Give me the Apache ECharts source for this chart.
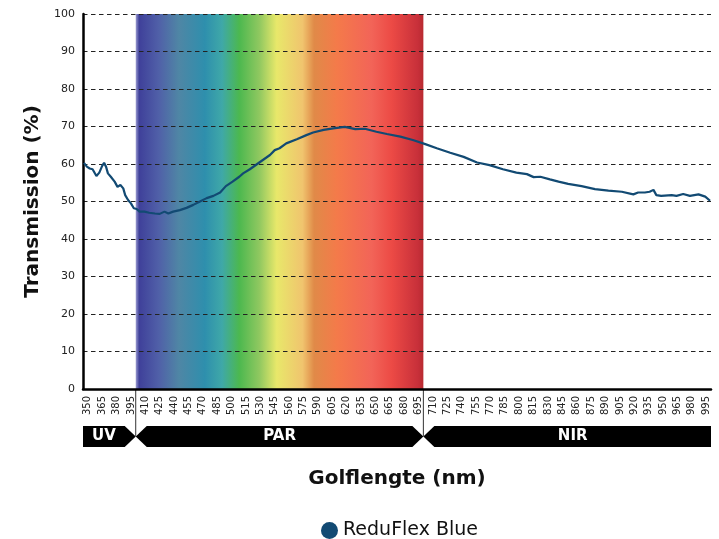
<!DOCTYPE html>
<html>
<head>
<meta charset="utf-8">
<script src="https://cdn.jsdelivr.net/npm/echarts@6/dist/echarts.min.js"></script>
<style>html,body{margin:0;padding:0;background:#fff}#c{width:719px;height:539px}</style>
</head>
<body>
<div id="c"></div>
<script>
// ---- data ----
const wavelengths = [346,349,352,355,359,362,365,367,369,371,374,378,381,384,387,389,392,395,398,401,404,409,414,420,425,430,434,439,446,453,460,467,474,481,488,494,501,508,512,519,530,540,545,550,557,568,578,585,596,606,618,629,639,651,662,676,689,702,714,728,742,756,769,783,797,808,815,822,832,841,851,865,879,893,907,919,924,931,936,940,943,948,959,964,971,978,987,994,999];
const transmission = [60.3,59.3,58.8,58.6,56.8,57.7,59.5,60.3,59.3,57.5,56.6,55.3,53.9,54.4,53.5,51.7,50.4,49.5,48.2,48.0,47.3,47.3,47.0,46.8,46.7,47.3,46.8,47.3,47.7,48.3,49.1,50.0,50.9,51.5,52.4,54.1,55.3,56.6,57.5,58.6,60.6,62.4,63.7,64.2,65.5,66.6,67.7,68.4,69.1,69.5,69.9,69.3,69.4,68.6,68.0,67.3,66.4,65.3,64.2,63.0,61.9,60.4,59.7,58.6,57.7,57.3,56.5,56.6,55.9,55.3,54.7,54.1,53.3,52.9,52.6,51.9,52.4,52.4,52.6,53.1,51.7,51.5,51.7,51.5,52.0,51.5,51.9,51.3,50.2];
const seriesName = 'ReduFlex Blue';
const yTicks = [0,10,20,30,40,50,60,70,80,90,100];
const labelStart = 350, labelStep = 15;   // x tick labels 350, 365, ... 995
const bands = [
  {name:'UV',  from:345, to:400},
  {name:'PAR', from:400, to:700},
  {name:'NIR', from:700, to:1000}
];
const spectrumStops = [
  [0.00,'#9a9ad0'],[0.012,'#3f409a'],[0.08,'#5060a8'],[0.15,'#4f86a5'],[0.24,'#2e8fad'],
  [0.30,'#3fa8a8'],[0.36,'#4cb84f'],[0.43,'#90c860'],[0.49,'#e8e86a'],[0.58,'#f0c46e'],
  [0.62,'#e08a48'],[0.70,'#f47a4a'],[0.82,'#f26458'],[0.89,'#ec4a45'],[0.98,'#c8303a'],[1.00,'#b82a30']
];

const FONT = 'DejaVu Sans';
const chart = echarts.init(document.getElementById('c'));
const lineData = wavelengths.map((w,i)=>[w, transmission[i]]);

chart.setOption({
  animation:false,
  textStyle:{fontFamily:FONT},
  grid:{left:83, right:8, top:14, bottom:150, containLabel:false},
  legend:{
    top:516, left:316, icon:'circle', itemWidth:17, itemHeight:17, itemGap:10,
    textStyle:{fontFamily:FONT, fontSize:19, color:'#111'},
    data:[seriesName]
  },
  xAxis:{
    type:'value', min:345, max:1000, interval:5, z:3,
    name:'Golflengte (nm)', nameLocation:'middle', nameGap:80,
    nameTextStyle:{fontFamily:FONT, fontSize:20, fontWeight:'bold', color:'#111'},
    axisLine:{show:true, lineStyle:{color:'#000', width:2.5}},
    axisTick:{show:false},
    splitLine:{show:false},
    axisLabel:{
      rotate:90, fontSize:10, color:'#222', margin:7, fontFamily:FONT,
      showMinLabel:false, showMaxLabel:false,
      formatter:v=> (v>=labelStart && (v-labelStart)%labelStep===0) ? String(v) : ''
    }
  },
  yAxis:{
    type:'value', min:0, max:100, interval:10, z:3,
    name:'Transmission (%)', nameLocation:'middle', nameGap:38,
    nameTextStyle:{fontFamily:FONT, fontSize:20, fontWeight:'bold', color:'#111'},
    axisLine:{show:true, lineStyle:{color:'#000', width:2.5}},
    axisTick:{show:false},
    axisLabel:{fontSize:11, color:'#222', margin:8, fontFamily:FONT, fontWeight:500,
      formatter:v=> yTicks.includes(v) ? String(v) : ''},
    splitLine:{show:true, lineStyle:{color:'#222', type:[4.5,3.5], width:1}}
  },
  series:[
    {
      type:'line', name:'spectrum', data:[], z:1, silent:true,
      markArea:{
        silent:true,
        itemStyle:{
          color:{type:'linear', x:0, y:0, x2:1, y2:0,
            colorStops:spectrumStops.map(s=>({offset:s[0], color:s[1]}))}
        },
        data:[[{xAxis:bands[1].from, yAxis:0},{xAxis:bands[1].to, yAxis:100}]]
      }
    },
    {
      type:'line', name:seriesName, data:lineData, z:5, showSymbol:false, smooth:false,
      lineStyle:{color:'#124a73', width:2.2}, itemStyle:{color:'#124a73'}
    }
  ]
});

// ---- band bar below the axis (UV / PAR / NIR) ----
function drawBands(){
  const px = w => chart.convertToPixel({gridIndex:0}, [w, 0]);
  const axisY = px(345)[1];
  const top = axisY + 37, h = 21, bot = top + h, mid = top + h/2, a = 11;
  const elems = [];
  bands.forEach((b, i)=>{
    const x0 = px(b.from)[0], x1 = px(b.to)[0];
    const pts = [];
    const first = i===0, last = i===bands.length-1;
    if (first){ pts.push([x0, top]); }
    else { pts.push([x0 + a, top]); }
    if (last){ pts.push([x1, top], [x1, bot]); }
    else { pts.push([x1 - a, top], [x1, mid], [x1 - a, bot]); }
    if (first){ pts.push([x0, bot]); }
    else { pts.push([x0 + a, bot], [x0, mid]); }
    elems.push({type:'polygon', shape:{points:pts}, style:{fill:'#000'}, silent:true});
    const l = first ? x0 : x0 + a, r = last ? x1 : x1 - a;
    elems.push({type:'text', x:(l+r)/2, y:mid, silent:true,
      style:{text:b.name, fill:'#fff', fontFamily:FONT, fontSize:15, fontWeight:'bold', align:'center', verticalAlign:'middle'}});
    if (!first){
      elems.push({type:'line', shape:{x1:x0, y1:axisY, x2:x0, y2:mid}, style:{stroke:'#333', lineWidth:1}, silent:true});
    }
  });
  chart.setOption({graphic:elems});
}
drawBands();
</script>
</body>
</html>
